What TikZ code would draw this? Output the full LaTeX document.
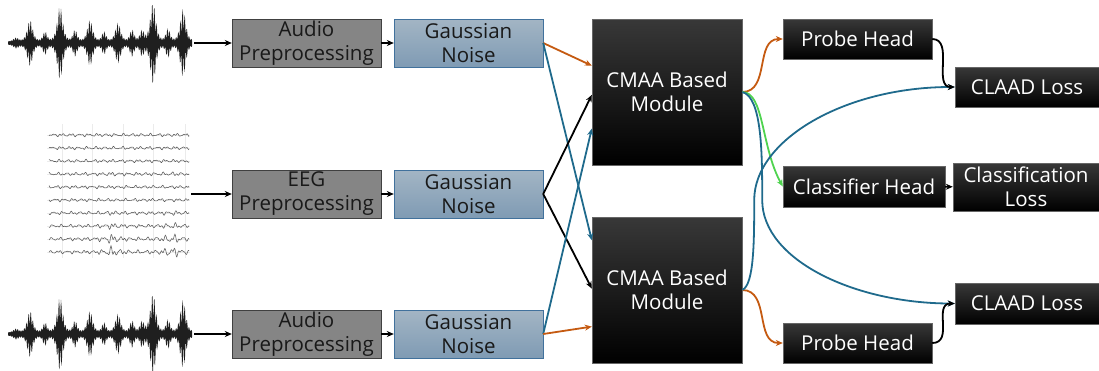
\documentclass[tikz,border=0pt]{standalone}
\usepackage{fontspec}
\setmainfont{Open Sans}
\usetikzlibrary{arrows.meta,calc}

\definecolor{prepfill}{HTML}{858585}
\definecolor{noiseedge}{HTML}{41719C}
\definecolor{noisetop}{HTML}{A3B5C4}
\definecolor{noisebot}{HTML}{7F9BB4}
\definecolor{orangeln}{HTML}{C55A11}
\definecolor{blueln}{HTML}{1F6A8C}
\definecolor{greenln}{HTML}{4FD34F}

\begin{document}
\begin{tikzpicture}[
  x=1pt, y=-1pt,
  declare function={
    bump(\x,\c,\w)=1/(1+((\x-\c)/\w)^2);
    pk(\x,\c,\w)=bump(\x,\c,\w)*bump(\x,\c,\w);
    wav(\x,\p)=1.3+(0.15+0.85*abs(sin(\x*\p)))*(22*pk(\x,22,5)+36*pk(\x,52,5)
      +22*pk(\x,82,5)+19*pk(\x,110,5)+40*pk(\x,145,5)+33*pk(\x,175,5)
      +10*pk(\x,37,4)+12*pk(\x,67,4)+10*pk(\x,96,4)+12*pk(\x,124,4)
      +11*pk(\x,134,4)+13*pk(\x,160,4)+4*pk(\x,8,5)+5*pk(\x,188,3));
  },
  every node/.style={font=\fontsize{20.5}{24}\selectfont, align=center, inner sep=0pt},
  imgbox/.style={draw=none},
  prepbox/.style={draw=black!75, fill=prepfill, text=black!90,
    minimum width=149pt, minimum height=48pt},
  noisebox/.style={draw=noiseedge, top color=noisetop, bottom color=noisebot,
    text=black!90, minimum width=149pt, minimum height=48pt},
  darkbox/.style={draw=black!60, top color=black!78, middle color=black,
    bottom color=black, text=white},
  link/.style={-{Stealth[length=7pt,width=6pt]}, line width=1.8pt},
  wavefill/.style={fill=black!88},
  eegline/.style={draw=black!65, line width=0.55pt},
  eeggrid/.style={draw=black!8, line width=0.4pt}]

\useasboundingbox (0,0) rectangle (1099,370);

% input signals
\foreach \cy in {43,334}
  \fill[wavefill] plot[domain=0:184, samples=369] ({8+\x},{\cy-wav(\x,83)})
    -- plot[domain=184:0, samples=369] ({8+\x},{\cy+wav(\x,79)}) -- cycle;
\node[imgbox, minimum width=186pt, minimum height=82pt] (wav1) at (101,43) {};
\node[imgbox, minimum width=186pt, minimum height=74pt] (wav3) at (101,334) {};

\foreach \gx in {62,92,123,153,185}
  \draw[eeggrid] (\gx,124) -- (\gx,258);
\foreach \r in {0,...,9}
  \draw[eeggrid] (47,{135+13*\r}) -- (190,{135+13*\r});
\foreach \r/\k in {0/0,1/0,2/0,3/0.5,4/0,5/0,6/0.8,7/1.5,8/3,9/3.5}
  \draw[eegline] plot[domain=49:189, samples=220] (\x,{135+13*\r
    +(1.4+\k*(bump(\x,112,6)+bump(\x,172,7)))*(0.6*sin((\x-47)*41+\r*57)
    +0.4*sin((\x-47)*79+\r*31)+0.35*sin((\x-47)*107+\r*29))});
\node[imgbox, minimum width=145pt, minimum height=142pt] (eeg) at (118.5,194) {};

% preprocessing and noise
\node[prepbox] (prep1) at (306.5,43) {Audio\\Preprocessing};
\node[prepbox] (prep2) at (306.5,194) {EEG\\Preprocessing};
\node[prepbox] (prep3) at (306.5,334) {Audio\\Preprocessing};
\node[noisebox] (noise1) at (468.5,43) {Gaussian\\Noise};
\node[noisebox] (noise2) at (468.5,194) {Gaussian\\Noise};
\node[noisebox] (noise3) at (468.5,334) {Gaussian\\Noise};

% modules and heads
\node[darkbox, minimum width=150pt, minimum height=146pt] (cmaa1) at (667,92) {CMAA Based\\Module};
\node[darkbox, minimum width=150pt, minimum height=146pt] (cmaa2) at (667,290) {CMAA Based\\Module};
\node[darkbox, minimum width=149pt, minimum height=40pt] (probe1) at (857.5,39) {Probe Head};
\node[darkbox, minimum width=149pt, minimum height=40pt] (probe2) at (857.5,343) {Probe Head};
\node[darkbox, minimum width=162pt, minimum height=41pt] (clshead) at (864,186.5) {Classifier Head};
\node[darkbox, minimum width=146pt, minimum height=48pt] (clsloss) at (1026,187) {Classification\\Loss};
\node[darkbox, minimum width=144pt, minimum height=40pt] (claad1) at (1027,87) {CLAAD Loss};
\node[darkbox, minimum width=144pt, minimum height=41pt] (claad2) at (1027,303.5) {CLAAD Loss};

\draw[link] (wav1) -- (prep1);
\draw[link] (eeg) -- (prep2);
\draw[link] (wav3) -- (prep3);
\draw[link] (prep1) -- (noise1);
\draw[link] (prep2) -- (noise2);
\draw[link] (prep3) -- (noise3);

\draw[link, orangeln] (noise1.east) -- ($(cmaa1.north west)!0.32!(cmaa1.south west)$);
\draw[link, blueln] (noise1.east) -- ($(cmaa2.north west)!0.16!(cmaa2.south west)$);
\draw[link] (noise2.east) -- ($(cmaa1.north west)!0.52!(cmaa1.south west)$);
\draw[link] (noise2.east) -- ($(cmaa2.north west)!0.49!(cmaa2.south west)$);
\draw[link, blueln] (noise3.east) -- ($(cmaa1.north west)!0.75!(cmaa1.south west)$);
\draw[link, orangeln] (noise3.east) -- ($(cmaa2.north west)!0.75!(cmaa2.south west)$);

\draw[link, orangeln] (cmaa1.east) .. controls +(28,0) and +(-28,0) .. (probe1.west);
\draw[link, orangeln] (cmaa2.east) .. controls +(28,0) and +(-28,0) .. (probe2.west);
\draw[link, greenln] (cmaa1.east) .. controls +(22,0) and +(-22,-40) .. (clshead.west);
\draw[link, blueln] (cmaa1.east) .. controls +(20,5) and +(0,-45) .. ++(20,108)
  .. controls +(0,60) and +(-100,0) .. (claad2.west);
\draw[link, blueln] (cmaa2.east) .. controls +(12,-5) and +(0,40) .. ++(12,-90)
  .. controls +(0,-60) and +(-110,0) .. (claad1.west);
\draw[link] (probe1.east) .. controls +(22,0) and +(-22,0) .. (claad1.west);
\draw[link] (probe2.east) .. controls +(22,0) and +(-22,0) .. (claad2.west);
\draw[link] (clshead) -- (clsloss);
\end{tikzpicture}
\end{document}
